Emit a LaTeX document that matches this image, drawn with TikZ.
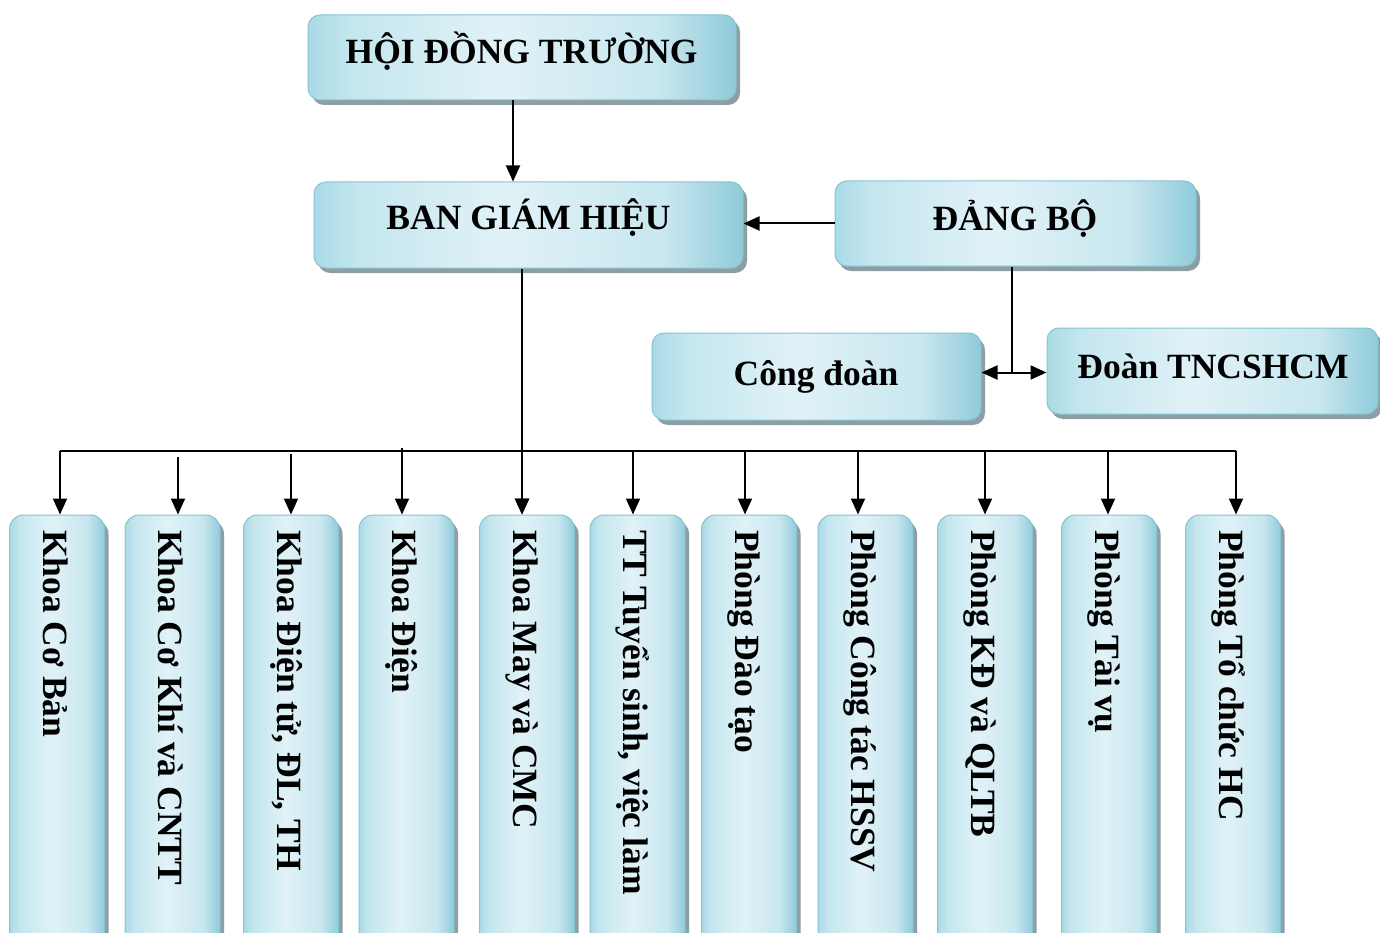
\documentclass[tikz,border=0pt]{standalone}
\usepackage{fontspec}
\setmainfont{Liberation Serif}
\usetikzlibrary{arrows.meta,shadows,calc}
\definecolor{bxL}{HTML}{A9DAE6}
\definecolor{bxL2}{HTML}{C4E6EE}
\definecolor{bxM}{HTML}{E0F2F7}
\definecolor{bxM2}{HTML}{C8E7EF}
\definecolor{bxR}{HTML}{8FCBDA}
\definecolor{bxD}{HTML}{86C3D3}
\definecolor{shd}{HTML}{8E9EA3}
\pgfdeclarehorizontalshading{boxsh}{100bp}{color(0bp)=(bxL); color(25bp)=(bxL); color(30bp)=(bxL2); color(47bp)=(bxM); color(66bp)=(bxM2); color(75bp)=(bxR); color(100bp)=(bxR)}
\begin{document}
\begin{tikzpicture}[x=1pt,y=-1pt,
  box/.style={draw=bxD, line width=1pt, rounded corners=12pt,
    shading=boxsh,
    drop shadow={shadow xshift=4pt, shadow yshift=-5pt, fill=shd, opacity=1},
    inner sep=0pt},
  hbox/.style={box, minimum width=#1},
  vbox/.style={box, rounded corners=14pt, minimum width=95pt, minimum height=440pt},
  lbl/.style={font=\fontsize{35.5}{40}\selectfont\bfseries, inner sep=0pt, anchor=base},
  vlbl/.style={font=\fontsize{35.5}{40}\selectfont\bfseries, inner sep=0pt, anchor=base west, rotate=-90},
  arr/.style={line width=2pt, -{Triangle[width=14pt,length=16pt]}},
  ln/.style={line width=2pt}
]
\useasboundingbox (0,0) rectangle (1380,933);
\fill[white] (0,0) rectangle (1380,933);
\clip (0,0) rectangle (1380,933);

% top boxes
\node[hbox=428pt, minimum height=85pt] (hdt) at (522,57.5) {};
\node[lbl] at (521.5,63.5) {HỘI ĐỒNG TRƯỜNG};
\node[hbox=429pt, minimum height=86pt] (bgh) at (528.5,225) {};
\node[lbl] at (528.5,230) {BAN GIÁM HIỆU};
\node[hbox=361pt, minimum height=85pt] (dang) at (1015.5,223.5) {};
\node[lbl] at (1015,231) {ĐẢNG BỘ};
\node[hbox=329pt, minimum height=87pt] (cd) at (816.5,376.5) {};
\node[lbl] at (816,385) {Công đoàn};
\node[hbox=331pt, minimum height=86pt] (doan) at (1212.5,371) {};
\node[lbl] at (1213,378) {Đoàn TNCSHCM};

% bottom boxes
\foreach \n/\cx/\ax/\sy/\t in {
  1/57/60/451/{Khoa Cơ Bản},
  2/172.5/178/457/{Khoa Cơ Khí và CNTT},
  3/291/291/454/{Khoa Điện tử, ĐL, TH},
  4/406.5/402/448/{Khoa Điện},
  5/527/522/451/{Khoa May và CMC},
  6/637.5/633/451/{TT Tuyển sinh, việc làm},
  7/749/745/451/{Phòng Đào tạo},
  8/865.5/858/451/{Phòng Công tác HSSV},
  9/985/985/451/{Phòng KĐ và QLTB},
  10/1109/1108/451/{Phòng Tài vụ},
  11/1233/1236/451/{Phòng Tổ chức HC}}{
  \node[vbox] (k\n) at (\cx,735) {};
  \node[vlbl] at (\cx-14,530) {\t};
  \coordinate (t\n) at (\ax,451);
  \coordinate (s\n) at (\ax,\sy);
  \draw[arr] (s\n) -- (s\n |- k\n.north);
}

% bus
\draw[ln] (t1) -- (t11);

% connectors
\coordinate (ha) at ([xshift=-9pt]hdt.south);
\draw[arr] (ha) -- (ha |- bgh.north);
\draw[arr] (dang.west) -- (dang.west -| bgh.east);
\coordinate (bd) at ([xshift=-6.5pt]bgh.south);
\draw[arr, line width=2.8pt] (bd) -- (bd |- k5.north);
\coordinate (ds) at ([xshift=-3.5pt]dang.south);
\path (ds) ++(0,106) coordinate (jn);
\draw[ln] (ds) -- (jn);
\draw[arr] (jn) -- (jn -| cd.east);
\draw[arr] (jn) -- (jn -| doan.west);
\end{tikzpicture}
\end{document}
